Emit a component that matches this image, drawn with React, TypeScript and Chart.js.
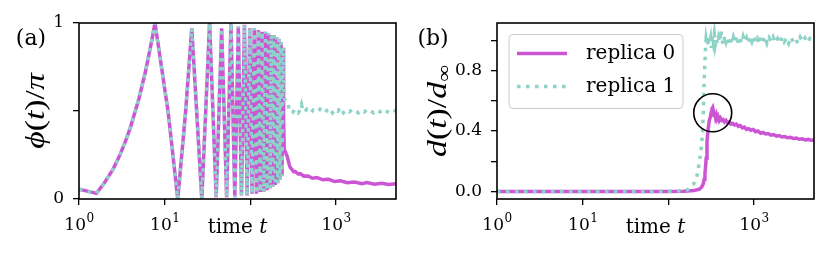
import React, { useEffect, useRef } from 'react';
import { Chart, registerables } from 'chart.js';
Chart.register(...registerables);

const MAGENTA = '#cc55d4';
const TEAL = '#8dd3c7';
const FAM = '"DejaVu Serif", serif';
const FAM_LBL = '"Liberation Serif", "DejaVu Serif", serif';

// ---- axes ----
const xTicks = [1, 10, 100, 1000];
const xTickExp = ['0', '1', '', '3'];
const phiYTicks = [0, 0.5, 1];
const phiYLabels = ['0', '', '1'];
const dYTicks = [0, 0.2, 0.4, 0.6, 0.8, 1.0];
const dYLabels = ['0.0', '', '0.4', '', '0.8', ''];
const seriesLabels = ['replica 0', 'replica 1'];

// ---- panel (a): phi(t)/pi, shared oscillation (turning points) ----
const oscT = [1, 1.6, 2, 2.5, 3, 3.5, 4, 5, 6, 7, 7.7, 11, 14.2, 17.5, 20.7, 27.1, 33.4, 39.9, 46.2, 52.8, 59.3, 65.8, 72.3, 78.7, 85.2, 91.7, 98.2, 104.6, 111.1, 117.6, 124.0, 130.5, 137.0, 143.4, 149.9, 156.4, 162.8, 169.3, 175.8, 182.2, 188.7, 195.2, 201.6, 208.1, 214.6, 221.0, 227.5, 234.0, 240.4];
const oscV = [0.055, 0.032, 0.095, 0.17, 0.25, 0.33, 0.41, 0.57, 0.73, 0.89, 1.0, 0.49, 0.0, 0.49, 0.97, 0.0, 1.0, 0.01, 0.97, 0.01, 1.0, 0.01, 0.98, 0.02, 0.99, 0.02, 0.97, 0.03, 0.97, 0.03, 0.96, 0.04, 0.95, 0.04, 0.95, 0.05, 0.94, 0.06, 0.93, 0.07, 0.93, 0.08, 0.92, 0.09, 0.91, 0.11, 0.89, 0.13, 0.86];

const tailA0T = [244, 248, 255, 262, 270, 279, 286, 292, 305, 320, 334, 360, 382, 420, 470, 530, 598, 700, 820, 960, 1120, 1350, 1650, 2000, 2300, 2800, 3400, 4100, 5000];
const tailA0V = [0.45, 0.28, 0.27, 0.255, 0.24, 0.21, 0.19, 0.178, 0.168, 0.155, 0.156, 0.142, 0.144, 0.13, 0.131, 0.118, 0.122, 0.109, 0.112, 0.099, 0.103, 0.092, 0.097, 0.087, 0.093, 0.084, 0.09, 0.082, 0.087];

const tailA1T = [246, 252, 262, 272, 282, 292, 302, 315, 330, 345, 362, 380, 395, 410, 430, 455, 480, 510, 540, 575, 610, 650, 690, 740, 790, 850, 910, 980, 1050, 1130, 1220, 1320, 1430, 1550, 1680, 1820, 1970, 2140, 2320, 2520, 2740, 2980, 3240, 3520, 3830, 4170, 4550, 5000];
const tailA1V = [0.6, 0.565, 0.56, 0.555, 0.51, 0.5, 0.505, 0.495, 0.51, 0.5, 0.49, 0.505, 0.535, 0.5, 0.495, 0.51, 0.5, 0.49, 0.505, 0.5, 0.495, 0.51, 0.5, 0.49, 0.505, 0.515, 0.49, 0.51, 0.5, 0.52, 0.49, 0.505, 0.495, 0.51, 0.5, 0.49, 0.505, 0.495, 0.51, 0.5, 0.49, 0.505, 0.495, 0.51, 0.5, 0.49, 0.505, 0.5];

// ---- panel (b): d(t)/d_inf ----
const dB0T = [1, 10, 50, 100, 150, 200, 230, 245, 255, 262, 267, 272, 276, 282, 288, 292, 300, 308, 315, 322, 329, 336, 342, 348, 355, 362, 370, 380, 392, 405, 420, 435, 452, 470, 490, 512, 535, 560, 590, 620, 655, 690, 730, 770, 815, 865, 920, 980, 1040, 1110, 1190, 1270, 1360, 1460, 1570, 1690, 1820, 1960, 2110, 2280, 2460, 2660, 2880, 3120, 3380, 3660, 3970, 4300, 4660, 5000];
const dB0V = [0, 0, 0, 0, 0.001, 0.006, 0.015, 0.03, 0.05, 0.08, 0.12, 0.17, 0.22, 0.33, 0.39, 0.42, 0.47, 0.49, 0.52, 0.545, 0.555, 0.53, 0.5, 0.52, 0.49, 0.505, 0.48, 0.495, 0.47, 0.485, 0.47, 0.475, 0.46, 0.47, 0.455, 0.46, 0.445, 0.45, 0.44, 0.445, 0.43, 0.435, 0.42, 0.425, 0.41, 0.415, 0.405, 0.41, 0.395, 0.4, 0.385, 0.39, 0.38, 0.383, 0.372, 0.376, 0.366, 0.37, 0.36, 0.363, 0.355, 0.358, 0.35, 0.353, 0.345, 0.348, 0.34, 0.344, 0.338, 0.34];

const dB1T = [1, 20, 60, 100, 140, 167, 185, 200, 210, 219, 229, 240, 246, 251, 258, 262, 267, 271, 275, 280, 285, 291, 297, 304, 311, 318, 326, 334, 343, 352, 362, 372, 385, 398, 410, 422, 438, 455, 472, 490, 510, 530, 552, 575, 600, 626, 653, 682, 712, 745, 780, 816, 855, 895, 940, 985, 1035, 1090, 1145, 1205, 1270, 1340, 1415, 1495, 1580, 1670, 1770, 1875, 1990, 2110, 2240, 2380, 2530, 2690, 2860, 3040, 3240, 3450, 3680, 3920, 4180, 4460, 4760, 5000];
const dB1V = [0, 0, 0, 0.001, 0.004, 0.01, 0.03, 0.055, 0.08, 0.12, 0.19, 0.27, 0.34, 0.40, 0.6, 0.75, 0.85, 0.95, 1.0, 0.97, 1.02, 0.96, 1.03, 0.98, 1.01, 0.95, 1.03, 0.99, 1.04, 0.97, 1.01, 0.98, 1.02, 0.99, 1.065, 1.0, 0.97, 1.03, 0.99, 1.02, 0.98, 1.01, 0.975, 1.02, 0.99, 1.03, 0.98, 1.01, 0.985, 1.025, 0.99, 1.015, 0.98, 1.02, 0.99, 1.03, 0.985, 1.01, 0.975, 1.02, 0.99, 1.025, 0.98, 1.015, 0.99, 1.02, 0.985, 1.01, 0.98, 1.02, 0.99, 1.015, 0.98, 1.02, 0.99, 1.01, 0.98, 1.02, 0.99, 1.015, 0.985, 1.01, 0.99, 1.0];

// circle highlight (data coords)
const circleT = 329;
const circleV = 0.52;

type Seg = { t: string; it?: boolean; sub?: boolean };

const pts = (T: number[], V: number[]) => T.map((t, i) => ({ x: t, y: V[i] }));

function drawMixed(ctx: CanvasRenderingContext2D, segs: Seg[], x: number, y: number, size: number, rot: number, stretch = 1, fam = FAM, subShift = 0.22) {
  ctx.save();
  ctx.translate(x, y);
  ctx.rotate(rot);
  ctx.scale(stretch, 1);
  ctx.fillStyle = '#000';
  ctx.textBaseline = 'alphabetic';
  ctx.textAlign = 'left';
  const fontOf = (s: Seg) => `${s.it ? 'italic ' : ''}${s.sub ? Math.round(size * 0.7) : size}px ${fam}`;
  let w = 0;
  for (const s of segs) { ctx.font = fontOf(s); w += ctx.measureText(s.t).width; }
  let cx = -w / 2;
  const base = size * 0.33;
  for (const s of segs) {
    ctx.font = fontOf(s);
    ctx.fillText(s.t, cx, base + (s.sub ? size * subShift : 0));
    cx += ctx.measureText(s.t).width;
  }
  ctx.restore();
}

function decorPlugin(cfg: { panel: string; panelX: number; ylabel: Seg[]; ylabelX: number; legend: boolean; circle: boolean }) {
  return {
    id: 'decor',
    afterDatasetsDraw(chart: any) {
      if (!cfg.circle) return;
      const ctx = chart.ctx as CanvasRenderingContext2D;
      const cx = chart.scales.x.getPixelForValue(circleT);
      const cy = chart.scales.y.getPixelForValue(circleV);
      ctx.save();
      ctx.strokeStyle = '#000';
      ctx.lineWidth = 1.6;
      ctx.beginPath();
      ctx.arc(cx, cy, 19, 0, Math.PI * 2);
      ctx.stroke();
      ctx.restore();
    },
    afterDraw(chart: any) {
      const ctx = chart.ctx as CanvasRenderingContext2D;
      const ca = chart.chartArea;
      ctx.save();
      ctx.strokeStyle = '#000';
      ctx.lineWidth = 1.6;
      ctx.strokeRect(ca.left, ca.top, ca.right - ca.left, ca.bottom - ca.top);
      ctx.restore();

      // x tick labels 10^n
      const xs = chart.scales.x;
      ctx.save();
      ctx.fillStyle = '#000';
      ctx.textBaseline = 'alphabetic';
      ctx.textAlign = 'left';
      xTicks.forEach((v, i) => {
        const e = xTickExp[i];
        if (!e) return;
        const px = xs.getPixelForValue(v);
        ctx.font = `17px ${FAM}`;
        const w1 = ctx.measureText('10').width;
        ctx.font = `12px ${FAM}`;
        const w2 = ctx.measureText(e).width;
        const x0 = px - (w1 + w2) / 2;
        ctx.font = `17px ${FAM}`;
        ctx.fillText('10', x0, ca.bottom + 31);
        ctx.font = `12px ${FAM}`;
        ctx.fillText(e, x0 + w1 + 0.5, ca.bottom + 23);
      });
      ctx.restore();

      // x title
      const midX = (ca.left + ca.right) / 2;
      drawMixed(ctx, [{ t: 'time ' }, { t: 't', it: true }], midX, ca.bottom + 34 - 20 * 0.33, 20, 0);
      // y title
      drawMixed(ctx, cfg.ylabel, cfg.ylabelX, (ca.top + ca.bottom) / 2, 27, -Math.PI / 2, 1.25, FAM_LBL, 0.15);
      // panel label
      drawMixed(ctx, [{ t: cfg.panel }], cfg.panelX, 38, 22, 0);

      if (cfg.legend) {
        const ds = chart.data.datasets;
        const bx = ca.left + 12, by = ca.top + 11.5, bw = 174, bh = 74;
        ctx.save();
        ctx.beginPath();
        (ctx as any).roundRect(bx, by, bw, bh, 4);
        ctx.fillStyle = 'rgba(255,255,255,0.8)';
        ctx.fill();
        ctx.strokeStyle = '#cccccc';
        ctx.lineWidth = 1;
        ctx.stroke();
        [0, 1].forEach((k) => {
          const d = ds[k];
          const yy = by + 19 + k * 33;
          ctx.save();
          ctx.strokeStyle = d.borderColor;
          ctx.lineWidth = d.borderWidth;
          ctx.setLineDash(d.borderDash || []);
          ctx.beginPath();
          ctx.moveTo(bx + 8, yy);
          ctx.lineTo(bx + 58, yy);
          ctx.stroke();
          ctx.restore();
          ctx.fillStyle = '#000';
          ctx.font = `20px ${FAM}`;
          ctx.textAlign = 'left';
          ctx.textBaseline = 'middle';
          ctx.fillText(d.label, bx + 77, yy);
        });
        ctx.restore();
      }
    },
  };
}

function makeConfig(opts: {
  d0: { x: number; y: number }[];
  d1: { x: number; y: number }[];
  yMin: number; yMax: number; yTicks: number[]; yLabels: string[];
  yWidth: number; rightPad: number; plugin: any;
}) {
  return {
    type: 'line' as const,
    data: {
      datasets: [
        { label: seriesLabels[0], data: opts.d0, borderColor: MAGENTA, borderWidth: 3.5, pointRadius: 0, fill: false, tension: 0, order: 1 },
        { label: seriesLabels[1], data: opts.d1, borderColor: TEAL, borderWidth: 3.5, borderDash: [3.5, 5.5], pointRadius: 0, fill: false, tension: 0, order: 0 },
      ],
    },
    options: {
      responsive: false,
      animation: false as const,
      devicePixelRatio: 1,
      layout: { padding: { left: 0, right: opts.rightPad, top: 23, bottom: 0 } },
      plugins: { legend: { display: false }, tooltip: { enabled: false } },
      scales: {
        x: {
          type: 'logarithmic' as const,
          min: 1,
          max: 5000,
          afterBuildTicks: (s: any) => { s.ticks = xTicks.map((v) => ({ value: v })); },
          afterFit: (s: any) => { s.height = 57; },
          ticks: { display: false },
          grid: { display: true, drawOnChartArea: false, drawTicks: true, tickLength: 6, color: '#000', lineWidth: 1.3 },
          border: { display: false },
        },
        y: {
          type: 'linear' as const,
          min: opts.yMin,
          max: opts.yMax,
          afterBuildTicks: (s: any) => { s.ticks = opts.yTicks.map((v) => ({ value: v })); },
          afterFit: (s: any) => { s.width = opts.yWidth; },
          ticks: {
            padding: 9,
            color: '#000',
            font: { family: FAM, size: 17 },
            callback: (v: any) => {
              const i = opts.yTicks.findIndex((t) => Math.abs(t - Number(v)) < 1e-9);
              return i >= 0 ? opts.yLabels[i] : '';
            },
          },
          grid: { display: true, drawOnChartArea: false, drawTicks: true, tickLength: 6, color: '#000', lineWidth: 1.3 },
          border: { display: false },
        },
      },
    },
    plugins: [opts.plugin],
  };
}

export default function App() {
  const refA = useRef<HTMLCanvasElement>(null);
  const refB = useRef<HTMLCanvasElement>(null);

  useEffect(() => {
    const a = new Chart(refA.current!, makeConfig({
      d0: pts([...oscT, ...tailA0T], [...oscV, ...tailA0V]),
      d1: pts([...oscT, ...tailA1T], [...oscV, ...tailA1V]),
      yMin: 0, yMax: 1, yTicks: phiYTicks, yLabels: phiYLabels,
      yWidth: 79, rightPad: 18,
      plugin: decorPlugin({
        panel: '(a)', panelX: 31,
        ylabel: [{ t: 'ϕ', it: true }, { t: '(' }, { t: 't', it: true }, { t: ')/' }, { t: 'π', it: true }],
        ylabelX: 35, legend: false, circle: false,
      }),
    }) as any);
    const b = new Chart(refB.current!, makeConfig({
      d0: pts(dB0T, dB0V),
      d1: pts(dB1T, dB1V),
      yMin: -0.05, yMax: 1.114, yTicks: dYTicks, yLabels: dYLabels,
      yWidth: 83, rightPad: 15,
      plugin: decorPlugin({
        panel: '(b)', panelX: 19,
        ylabel: [{ t: 'd', it: true }, { t: '(' }, { t: 't', it: true }, { t: ')/' }, { t: 'd', it: true }, { t: '∞', sub: true }],
        ylabelX: 23, legend: true, circle: true,
      }),
    }) as any);
    return () => { a.destroy(); b.destroy(); };
  }, []);

  return (
    <div style={{ position: 'absolute', left: 0, top: 0, width: 829, height: 256, background: '#fff' }}>
      <canvas ref={refA} width={414} height={256} style={{ position: 'absolute', left: 0, top: 0, display: 'block' }} />
      <canvas ref={refB} width={415} height={256} style={{ position: 'absolute', left: 414, top: 0, display: 'block' }} />
    </div>
  );
}
